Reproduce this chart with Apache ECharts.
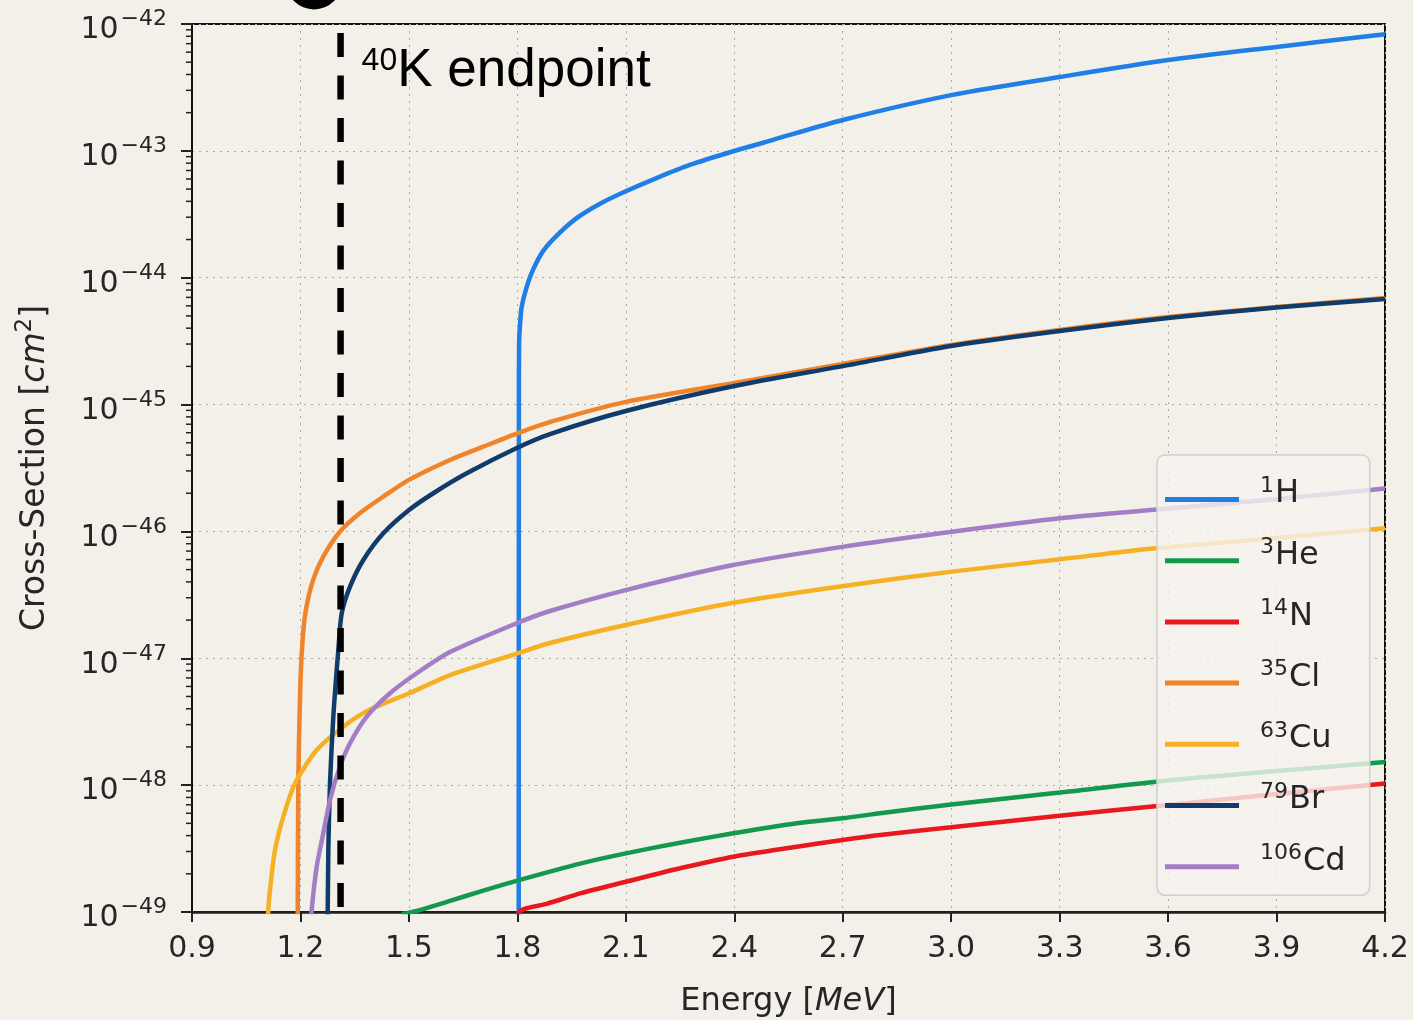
<!DOCTYPE html>
<html><head><meta charset="utf-8">
<script src="https://cdn.jsdelivr.net/npm/echarts@6/dist/echarts.min.js"></script>
<style>html,body{margin:0;padding:0;background:#f3f0e9;}#c{width:1413px;height:1020px;}</style>
</head><body><div id="c"></div>
<script>
// ---- data (energy in MeV, cross-section in cm^2) ----
const isotopes = ['1H', '3He', '14N', '35Cl', '63Cu', '79Br', '106Cd'];
const massNumbers = ['1', '3', '14', '35', '63', '79', '106'];
const elementSymbols = ['H', 'He', 'N', 'Cl', 'Cu', 'Br', 'Cd'];

const h1 = [[1.8036,1e-50],[1.8042,1.0e-45],[1.8048,3.0e-45],[1.808,4.5e-45],[1.812,5.9e-45],[1.826,8.5e-45],[1.843,1.15e-44],[1.871,1.62e-44],[1.909,2.15e-44],[1.964,2.95e-44],[2.03,3.85e-44],[2.1,4.8e-44],[2.185,6.1e-44],[2.277,7.74e-44],[2.393,9.84e-44],[2.507,1.22e-43],[2.7,1.75e-43],[3.0,2.75e-43],[3.3,3.82e-43],[3.6,5.2e-43],[3.9,6.6e-43],[4.2,8.3e-43]];
const he3 = [[1.48,9.6e-50],[1.5216,1.02e-49],[1.6046,1.2e-49],[1.6966,1.45e-49],[1.8,1.77e-49],[1.9765,2.42e-49],[2.1,2.9e-49],[2.25,3.52e-49],[2.3976,4.17e-49],[2.573,5.0e-49],[2.7,5.48e-49],[2.8033,6.0e-49],[3.0,7.05e-49],[3.3,8.75e-49],[3.6,1.09e-48],[3.9,1.29e-48],[4.2,1.52e-48]];
const n14 = [[1.797,7.5e-50],[1.8073,1.02e-49],[1.8811,1.16e-49],[1.9765,1.41e-49],[2.1,1.73e-49],[2.25,2.21e-49],[2.3976,2.73e-49],[2.573,3.27e-49],[2.7,3.7e-49],[2.8033,4.05e-49],[3.0,4.65e-49],[3.3,5.74e-49],[3.6,6.98e-49],[3.9,8.5e-49],[4.2,1.03e-48]];
const cl35 = [[1.1915,1e-50],[1.1925,1.04e-49],[1.194,1.03e-48],[1.200,6.7e-48],[1.2074,1.58e-47],[1.2166,2.55e-47],[1.235,4.14e-47],[1.263,6.32e-47],[1.309,9.95e-47],[1.364,1.39e-46],[1.429,1.88e-46],[1.5,2.55e-46],[1.6137,3.66e-46],[1.7059,4.66e-46],[1.8,5.94e-46],[1.8934,7.33e-46],[2.1,1.05e-45],[2.4,1.48e-45],[2.7,2.09e-45],[3.0,2.95e-45],[3.3,3.88e-45],[3.6,4.9e-45],[3.9,5.87e-45],[4.2,6.92e-45]];
const cu63 = [[1.109,5e-50],[1.1111,1.04e-49],[1.1177,1.68e-49],[1.1296,3.08e-49],[1.1526,5.64e-49],[1.1849,1.03e-48],[1.245,1.89e-48],[1.3185,2.89e-48],[1.3924,3.94e-48],[1.5011,5.3e-48],[1.6137,7.38e-48],[1.7982,1.09e-47],[1.8903,1.32e-47],[2.1,1.83e-47],[2.3966,2.74e-47],[2.7028,3.72e-47],[3.0024,4.82e-47],[3.3011,6.03e-47],[3.5631,7.36e-47],[3.9,8.87e-47],[4.2,1.06e-46]];
const br79 = [[1.268,1e-50],[1.2754,1.04e-49],[1.2771,3.08e-49],[1.2817,1.03e-48],[1.2909,3.47e-48],[1.3047,1.16e-47],[1.3141,2.26e-47],[1.3371,3.67e-47],[1.3739,5.95e-47],[1.4292,9.66e-47],[1.5011,1.48e-46],[1.5675,2.0e-46],[1.6599,2.87e-46],[1.7982,4.55e-46],[1.8903,5.86e-46],[2.1,8.9e-46],[2.4,1.4e-45],[2.7,2.01e-45],[3.0,2.9e-45],[3.3,3.8e-45],[3.6,4.82e-45],[3.9,5.82e-45],[4.2,6.8e-45]];
const cd106 = [[1.228,7e-50],[1.2311,1.04e-49],[1.245,2.28e-49],[1.2632,4.18e-49],[1.2817,7.64e-49],[1.3094,1.4e-48],[1.3371,2.14e-48],[1.3833,3.47e-48],[1.4477,5.3e-48],[1.5216,7.62e-48],[1.6137,1.12e-47],[1.7982,1.89e-47],[1.8903,2.36e-47],[2.1,3.45e-47],[2.3966,5.43e-47],[2.7028,7.59e-47],[3.0024,9.95e-47],[3.3011,1.27e-46],[3.5631,1.48e-46],[3.9,1.8e-46],[4.2,2.18e-46]];

const k40Endpoint = 1.311;           // MeV
const k40LineTop = 8.5e-43;          // top of dashed marker (cm^2)
const xMin = 0.9, xMax = 4.2, xStep = 0.3;
const yMin = 1e-49, yMax = 1e-42;
const minorMultipliers = [2, 3, 4, 5, 6, 7, 8, 9];
const decadeExponents = [-49, -48, -47, -46, -45, -44, -43];

// The log axis works in units of 1e-45 cm^2 (ECharts rounds tiny log ticks to 0);
// labels are converted back to cm^2 exponents.
const UNIT_EXP = -45;
const UNIT = Math.pow(10, UNIT_EXP);
const toAxis = v => v / UNIT;

// ---- styles ----
const seriesData = [h1, he3, n14, cl35, cu63, br79, cd106];
const colors = ['#1f7fe6', '#12994b', '#e8181f', '#f0842a', '#f5b024', '#0f3c6a', '#a37dc6'];
const FONT = 'DejaVu Sans';
const TXT = '#262626';

const minorTicks = [];
decadeExponents.forEach(e => minorMultipliers.forEach(m => minorTicks.push([xMin, m * Math.pow(10, e - UNIT_EXP)])));

const series = isotopes.map((name, i) => ({
  name, type: 'line', data: seriesData[i].map(p => [p[0], toAxis(p[1])]), showSymbol: false, symbol: 'none',
  smooth: 0.25,
  lineStyle: { color: colors[i], width: 4.5 }, itemStyle: { color: colors[i] },
  clip: true, z: 2, silent: true
}));
series.push({
  name: 'k40', type: 'line', data: [[k40Endpoint, toAxis(k40LineTop)], [k40Endpoint, toAxis(yMin)]],
  showSymbol: false, symbol: 'none', silent: true, z: 5,
  lineStyle: { color: '#000', width: 6.5, type: [24, 18.5] }
});
series.push({
  name: 'minor', type: 'custom', data: minorTicks, silent: true, clip: false, z: 6,
  renderItem: (p, api) => {
    const pt = api.coord([api.value(0), api.value(1)]);
    return { type: 'line', shape: { x1: pt[0] - 6, y1: pt[1], x2: pt[0], y2: pt[1] }, style: { stroke: '#222', lineWidth: 1.5 } };
  }
});

const tickRich = {
  b: { fontSize: 30, lineHeight: 43, padding: [13, 0, 0, 0], verticalAlign: 'top', fontFamily: FONT, color: TXT },
  s: { fontSize: 22, lineHeight: 43, padding: [6, 0, 0, 2], verticalAlign: 'top', fontFamily: FONT, color: TXT }
};

const option = {
  backgroundColor: '#f3f0e9',
  animation: false,
  grid: { left: 192, right: 28, top: 24, bottom: 108, outerBoundsMode: 'none', show: true, borderColor: '#111', borderWidth: 2, backgroundColor: 'transparent' },
  xAxis: {
    type: 'value', min: xMin, max: xMax, interval: xStep,
    name: '{n|Energy [}{i|MeV}{n|]}', nameLocation: 'middle', nameGap: 74,
    nameTextStyle: { rich: { n: { fontSize: 32, fontFamily: FONT, color: TXT }, i: { fontSize: 32, fontFamily: FONT, fontStyle: 'italic', color: TXT } } },
    axisLine: { lineStyle: { color: '#222', width: 2.5 } },
    axisTick: { length: 10, lineStyle: { color: '#222', width: 2 } },
    axisLabel: { fontSize: 30, fontFamily: FONT, color: TXT, margin: 22, formatter: v => v.toFixed(1) },
    splitLine: { show: true, lineStyle: { color: '#a9a9a9', type: [2, 5], width: 1 } }
  },
  yAxis: {
    type: 'log', logBase: 10, min: toAxis(yMin), max: toAxis(yMax), interval: 1,
    name: '{n|Cross-Section [}{i|cm}{s|2}{n|]}', nameLocation: 'middle', nameGap: 140,
    nameTextStyle: { rich: {
      n: { fontSize: 33, lineHeight: 40, padding: [7, 0, 0, 0], verticalAlign: 'top', fontFamily: FONT, color: TXT },
      i: { fontSize: 33, lineHeight: 40, padding: [7, 0, 0, 0], verticalAlign: 'top', fontFamily: FONT, fontStyle: 'italic', color: TXT },
      s: { fontSize: 23, lineHeight: 40, padding: [2, 0, 0, 0], verticalAlign: 'top', fontFamily: FONT, color: TXT } } },
    axisLine: { show: true, lineStyle: { color: '#111', width: 2 } },
    axisTick: { show: true, length: 11, lineStyle: { color: '#222', width: 2 } },
    axisLabel: { margin: 25, formatter: v => '{b|10}{s|\u2212' + (-(Math.round(Math.log10(v)) + UNIT_EXP)) + '}', rich: tickRich },
    splitLine: { show: true, lineStyle: { color: '#a9a9a9', type: [2, 5], width: 1 } }
  },
  legend: {
    data: isotopes, orient: 'vertical', left: 1157, top: 455, icon: 'rect', itemWidth: 74, itemHeight: 5, itemGap: 21.2,
    padding: [20, 24, 13, 8], backgroundColor: 'rgba(246,244,239,0.8)', borderColor: '#cfcfcf', borderWidth: 1.5, borderRadius: 8,
    selectedMode: false,
    formatter: name => { const i = isotopes.indexOf(name); return '{g| }{s|' + massNumbers[i] + '}{b|' + elementSymbols[i] + '}'; },
    textStyle: { color: TXT, fontFamily: FONT, padding: [0, 0, 9, 0], rich: {
      g: { width: 16, fontSize: 10, verticalAlign: 'top' },
      s: { fontSize: 22, lineHeight: 40, verticalAlign: 'top', fontFamily: FONT, color: TXT },
      b: { fontSize: 32, lineHeight: 40, padding: [3, 0, 5, 1], verticalAlign: 'top', fontFamily: FONT, color: TXT } } }
  },
  series
};

const chart = echarts.init(document.getElementById('c'), null, { renderer: 'canvas' });
chart.setOption(option);
const px = chart.convertToPixel({ gridIndex: 0 }, [k40Endpoint, toAxis(yMax)]);
chart.setOption({
  graphic: [
    { type: 'circle', shape: { cx: 314, cy: -18.5, r: 28 }, style: { fill: '#000' }, z: 10 },
    { type: 'text', x: px[0] + 21, y: px[1] + 21, z: 10,
      style: { text: '{s|40}{b|K endpoint}', verticalAlign: 'top', align: 'left',
        rich: { s: { fontSize: 32, lineHeight: 32, verticalAlign: 'top', fontFamily: 'Liberation Sans', fill: '#000' },
                b: { fontSize: 53, lineHeight: 53, verticalAlign: 'bottom', fontFamily: 'Liberation Sans', fill: '#000' } } } }
  ]
});
</script></body></html>
